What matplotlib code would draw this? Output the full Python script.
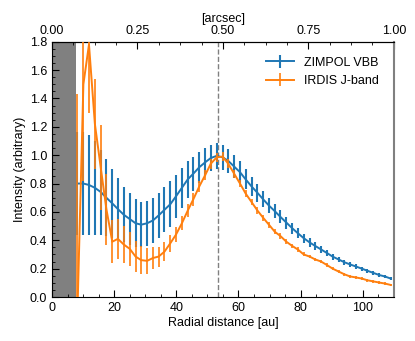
import numpy as np
import matplotlib
matplotlib.use("Agg")
import matplotlib.pyplot as plt
from matplotlib.ticker import AutoMinorLocator, MultipleLocator, FixedLocator, FormatStrFormatter

plt.rcParams['font.family'] = ['Liberation Sans', 'DejaVu Sans']
plt.rcParams['font.size'] = 9

# radial bins [au], shared by both instruments
radius = [8.2, 10.1, 11.9, 13.8, 15.7, 17.5, 19.4, 21.2, 23.1, 25.0,
          26.9, 28.7, 30.6, 32.5, 34.3, 36.2, 38.1, 39.9, 41.8, 43.7,
          45.5, 47.4, 49.3, 51.1, 53.0, 54.9, 56.7, 58.6, 60.5, 62.3,
          64.2, 66.1, 67.9, 69.8, 71.7, 73.5, 75.4, 77.3, 79.1, 81.0,
          82.9, 84.7, 86.6, 88.5, 90.3, 92.2, 94.1, 95.9, 97.8, 99.7,
          101.5, 103.4, 105.3, 107.1, 109.0]

zimpol = [0.80, 0.80, 0.79, 0.77, 0.74, 0.70, 0.66, 0.62, 0.58, 0.55,
          0.52, 0.51, 0.52, 0.54, 0.575, 0.615, 0.655, 0.71, 0.77, 0.83,
          0.87, 0.915, 0.95, 0.98, 0.995, 0.985, 0.96, 0.92, 0.88, 0.83,
          0.78, 0.735, 0.69, 0.645, 0.605, 0.565, 0.525, 0.485, 0.45, 0.415,
          0.385, 0.36, 0.335, 0.31, 0.285, 0.265, 0.245, 0.23, 0.215, 0.20,
          0.185, 0.17, 0.155, 0.145, 0.13]
zimpol_err = [0.36, 0.36, 0.35, 0.33, 0.30, 0.27, 0.245, 0.22, 0.195, 0.185,
              0.17, 0.16, 0.16, 0.16, 0.16, 0.16, 0.16, 0.15, 0.14, 0.13,
              0.12, 0.11, 0.10, 0.095, 0.09, 0.09, 0.085, 0.08, 0.078, 0.072,
              0.068, 0.062, 0.058, 0.054, 0.05, 0.046, 0.042, 0.038, 0.035, 0.032,
              0.029, 0.027, 0.025, 0.023, 0.021, 0.02, 0.018, 0.017, 0.016, 0.015,
              0.014, 0.013, 0.012, 0.012, 0.011]

irdis = [-0.10, 1.50, 1.78, 1.22, 0.91, 0.62, 0.39, 0.41, 0.37, 0.34,
         0.285, 0.26, 0.255, 0.275, 0.285, 0.32, 0.38, 0.44, 0.52, 0.61,
         0.69, 0.78, 0.86, 0.94, 0.985, 0.99, 0.94, 0.87, 0.80, 0.73,
         0.67, 0.61, 0.56, 0.51, 0.46, 0.43, 0.39, 0.36, 0.335, 0.30,
         0.285, 0.265, 0.25, 0.225, 0.20, 0.18, 0.16, 0.145, 0.138, 0.13,
         0.118, 0.11, 0.102, 0.095, 0.085]
irdis_err = [1.53, 0.68, 0.48, 0.32, 0.30, 0.25, 0.15, 0.14, 0.13, 0.12,
             0.11, 0.10, 0.09, 0.08, 0.07, 0.065, 0.06, 0.055, 0.05, 0.045,
             0.045, 0.04, 0.035, 0.035, 0.03, 0.03, 0.03, 0.028, 0.026, 0.025,
             0.024, 0.022, 0.021, 0.02, 0.019, 0.018, 0.017, 0.016, 0.015, 0.014,
             0.013, 0.013, 0.012, 0.012, 0.011, 0.011, 0.010, 0.010, 0.010, 0.009,
             0.009, 0.009, 0.008, 0.008, 0.008]

arcsec_ticks = [0.0, 0.25, 0.5, 0.75, 1.0]

distance_pc = 110.0   # au per arcsec
mask_edge = 7.7       # coronagraph region [au]
ring_peak = 53.5      # dashed line [au]

fig = plt.figure(figsize=(4.15, 3.41), dpi=100)
ax = fig.add_axes([0.1253, 0.129, 0.8237, 0.7487])

ax.axvspan(0, mask_edge, color='grey', lw=0, zorder=0)
ax.axvline(ring_peak, color='grey', ls='--', lw=1.0, zorder=1)

ax.errorbar(radius, zimpol, yerr=zimpol_err, color='#1f77b4', lw=1.4,
            elinewidth=1.5, capsize=0, label='ZIMPOL VBB', zorder=2)
ax.errorbar(radius, irdis, yerr=irdis_err, color='#ff7f0e', lw=1.4,
            elinewidth=1.2, capsize=0, label='IRDIS J-band', zorder=3)

ax.set_xlim(0, 110)
ax.set_ylim(0, 1.8)
ax.xaxis.set_major_locator(MultipleLocator(20))
ax.xaxis.set_minor_locator(AutoMinorLocator(4))
ax.yaxis.set_major_locator(MultipleLocator(0.2))
ax.yaxis.set_minor_locator(AutoMinorLocator(4))
ax.yaxis.set_major_formatter(FormatStrFormatter('%.1f'))
ax.tick_params(which='both', direction='in', top=False, right=False, labelsize=9)
ax.tick_params(which='major', length=5)
ax.tick_params(which='minor', length=2.5)
ax.spines['right'].set_color('grey')
ax.spines['right'].set_linewidth(1.5)

ax.set_xlabel('Radial distance [au]', fontsize=9, labelpad=2)
ax.set_ylabel('Intensity (arbitrary)', fontsize=9, labelpad=3)

sec = ax.secondary_xaxis('top', functions=(lambda r: r / distance_pc,
                                           lambda a: a * distance_pc))
sec.xaxis.set_major_locator(FixedLocator(arcsec_ticks))
sec.xaxis.set_minor_locator(AutoMinorLocator(4))
sec.xaxis.set_major_formatter(FormatStrFormatter('%.2f'))
sec.tick_params(which='both', direction='in', labelsize=9)
sec.tick_params(which='major', length=5)
sec.tick_params(which='minor', length=2.5)
sec.set_xlabel('[arcsec]', fontsize=9, labelpad=2)

ax.legend(loc='upper right', frameon=False, fontsize=9, handlelength=2.2,
          borderaxespad=0.8)

fig.savefig('out.png', dpi=100)
